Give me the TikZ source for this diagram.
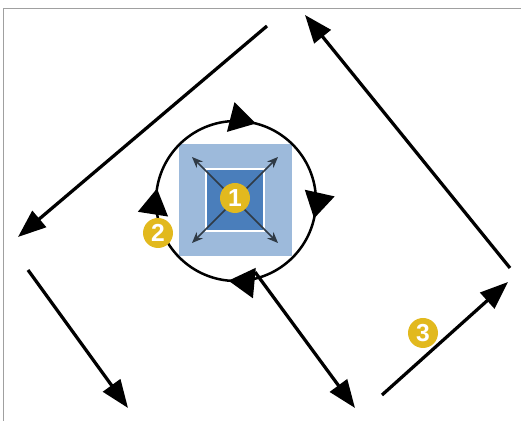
\documentclass[tikz,border=0pt]{standalone}
\usepackage{fontspec}
\setsansfont{Liberation Sans}
\usetikzlibrary{arrows.meta,decorations.markings,positioning}

\definecolor{badgegold}{HTML}{E2B91E}
\definecolor{outerblue}{HTML}{9DBADB}
\definecolor{innerblue}{HTML}{4A7EBB}
\definecolor{spreadgray}{HTML}{2F3A45}
\definecolor{framegray}{HTML}{A0A0A0}

\begin{document}
\begin{tikzpicture}[
    x=0.02cm, y=-0.02cm,
    move/.style={-{Triangle[length=0.56cm, width=0.42cm]}, line width=0.065cm},
    spread/.style={-{Stealth[length=0.22cm, width=0.18cm]}, line width=0.03cm, draw=spreadgray},
    badge/.style={circle, fill=badgegold, text=white, inner sep=0pt, minimum size=0.6cm, font=\sffamily\bfseries\fontsize{14}{14}\selectfont},
    orbit/.style={line width=0.05cm, postaction={decorate}, decoration={markings,
        mark=at position 0.035 with {\arrow{Triangle[length=0.52cm, width=0.6cm]}},
        mark=at position 0.265 with {\arrow{Triangle[length=0.52cm, width=0.6cm]}},
        mark=at position 0.525 with {\arrow{Triangle[length=0.52cm, width=0.6cm]}},
        mark=at position 0.79 with {\arrow{Triangle[length=0.52cm, width=0.6cm]}}}},
]
    \useasboundingbox (0,0) rectangle (521,421);
    % frame
    \coordinate (fa) at (521,9);
    \coordinate (fb) at (3,9);
    \coordinate (fc) at (3,421);
    \draw[framegray, line width=0.02cm] (fa) -- (fb) -- (fc);

    % squares
    \node[rectangle, fill=outerblue, minimum size=2.26cm, inner sep=0pt] (outer) at (235.5,200) {};
    \node[rectangle, fill=innerblue, draw=white, line width=0.03cm, minimum width=1.16cm, minimum height=1.24cm, inner sep=0pt] (inner) at (235,200) {};
    \coordinate (mid) at (235,200);
    \foreach \cx/\cy in {192/157, 278/157, 192/243, 278/243}
        \draw[spread] (mid) -- (\cx,\cy);

    % orbit
    \coordinate (ctr) at (236,201);
    \draw[orbit] (ctr) ++(1.6cm,0) arc[start angle=0, end angle=-360, radius=1.6cm];

    % moves
    \coordinate (m1s) at (267,26);  \coordinate (m1e) at (18,237);
    \coordinate (m2s) at (510,268); \coordinate (m2e) at (305,15);
    \coordinate (m3s) at (28,270);  \coordinate (m3e) at (128,408);
    \coordinate (m4s) at (255,272); \coordinate (m4e) at (355,408);
    \coordinate (m5s) at (382,395); \coordinate (m5e) at (508,282);
    \foreach \m in {1,...,5}
        \draw[move] (m\m s) -- (m\m e);

    % badges
    \node[badge] (b1) at (235,198) {1};
    \node[badge] (b2) at (158,233) {2};
    \node[badge] (b3) at (423,333) {3};
\end{tikzpicture}
\end{document}
